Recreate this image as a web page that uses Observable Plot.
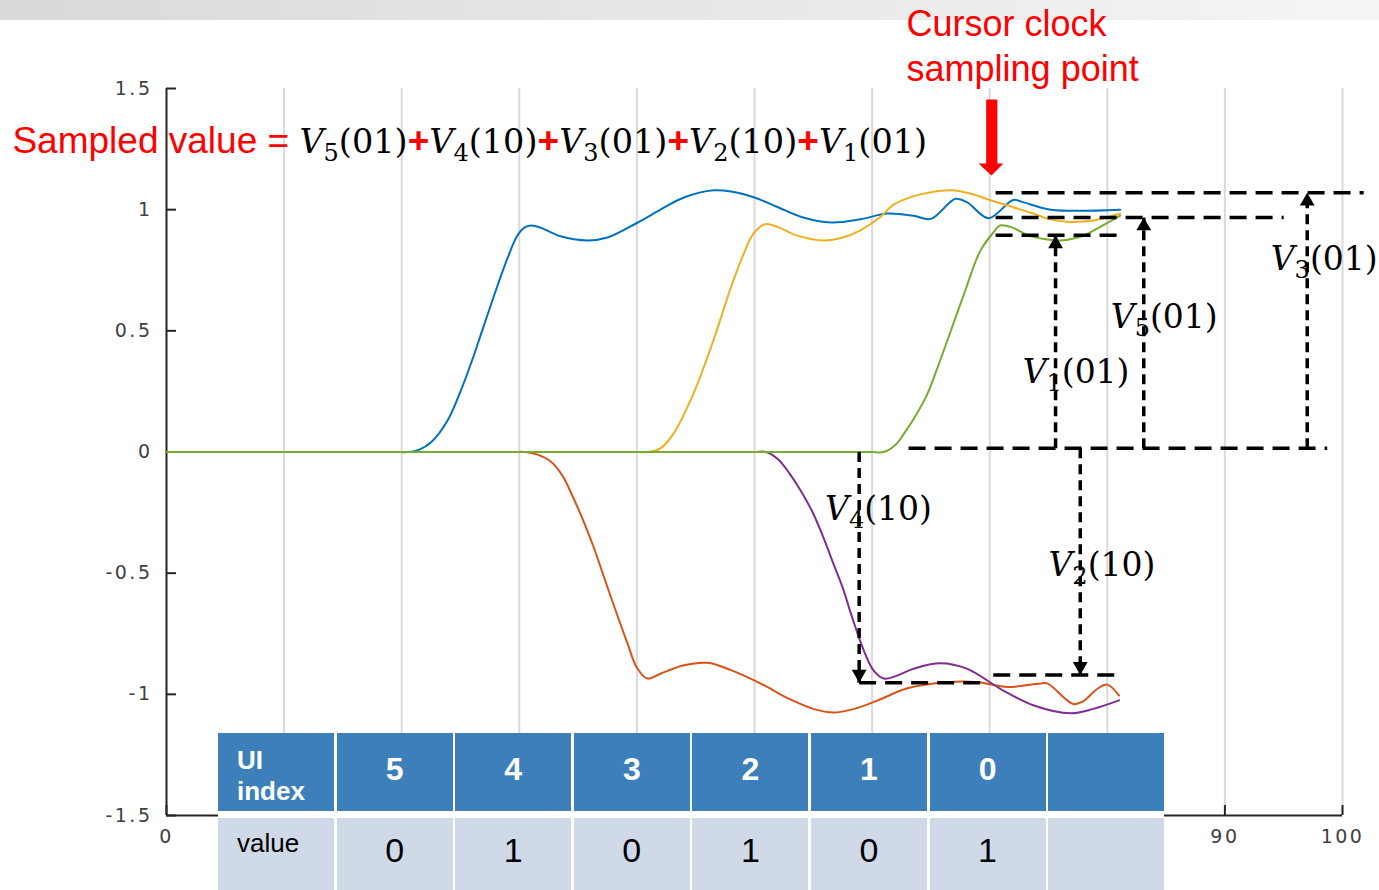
<!DOCTYPE html>
<html>
<head>
<meta charset="utf-8">
<script src="https://cdn.jsdelivr.net/npm/d3@7"></script>
<script src="https://cdn.jsdelivr.net/npm/@observablehq/plot@0.6"></script>
<style>
  html, body { margin: 0; padding: 0; background: #ffffff; }
  body { width: 1379px; height: 890px; overflow: hidden; position: relative; font-family: "Liberation Sans", Arial, sans-serif; }
  #topbar { position: absolute; left: 0; top: 0; width: 1379px; height: 20px; background: linear-gradient(to right, #d9d9d9, #f5f5f5); }
  #chart { position: absolute; left: 0; top: 0; }
  #chart svg { overflow: visible; }
  #chart g[aria-label="y-axis tick label"] text, #chart g[aria-label="x-axis tick label"] text { letter-spacing: 2.5px; }
  #table { position: absolute; left: 218px; top: 733px; display: grid; grid-template-columns: repeat(8, 116px); grid-template-rows: 78px 80px; column-gap: 2.6px; row-gap: 7px; background: #ffffff; }
  .cell { position: relative; }
  .head { background: #3c7fba; color: #ffffff; }
  .body { background: #d0d9e7; color: #000000; }
  .rowlabel { position: absolute; left: 19px; font-size: 26px; }
  .head .rowlabel { top: 12px; line-height: 31px; font-weight: bold; }
  .body .rowlabel { top: 12px; line-height: 26px; }
  .num { position: absolute; left: 0; right: 0; text-align: center; line-height: 1; }
  .head .num { top: 20px; font-size: 32px; font-weight: bold; }
  .body .num { top: 15px; font-size: 34px; }
</style>
</head>
<body>
<div id="topbar"></div>
<div id="chart"></div>
<div id="table"></div>
<script>
// ---------- data ----------
const xTicks = [0, 10, 20, 30, 40, 50, 60, 70, 80, 90, 100];
const xLabelTicks = [0, 90, 100];            // the others sit behind the table
const xTickLabels = ["0", "90", "100"];
const yTicks = [-1.5, -1, -0.5, 0, 0.5, 1, 1.5];
const yTickLabels = ["-1.5", "-1", "-0.5", "0", "0.5", "1", "1.5"];
const gridX = [10, 20, 30, 40, 50, 60, 70, 80, 90, 100];

// pulse responses (x, y)
const blueSeries = [[0,0],[5,0],[10,0],[15,0],[18,0],[19.5,0],[20.5,0],[21.5,0.01],[22.5,0.04],[23.9,0.13],[25,0.25],[26,0.38],[26.7,0.48],[28.1,0.68],[29,0.8],[29.8,0.89],[30.4,0.925],[31,0.935],[32,0.922],[33.5,0.89],[35.8,0.873],[37.5,0.885],[40,0.945],[42,1.0],[44,1.05],[46.5,1.08],[48,1.075],[50,1.05],[52,1.01],[54,0.97],[56.5,0.947],[59,0.96],[61.3,0.984],[63.5,0.975],[65,0.962],[67.1,1.045],[68.1,1.03],[69.9,0.965],[72,1.04],[72.9,1.03],[75.2,1.0],[81.1,1.0]];
const orangeSeries = [[0,0],[10,0],[20,0],[25,0],[28,0],[29.5,0],[30.5,0],[31.5,-0.01],[32.7,-0.04],[33.7,-0.1],[34.6,-0.19],[35.5,-0.29],[36.3,-0.39],[37.8,-0.6],[39.2,-0.79],[40,-0.89],[40.9,-0.935],[42,-0.915],[44,-0.88],[46,-0.87],[48,-0.9],[50.5,-0.955],[53,-1.02],[55,-1.06],[56.7,-1.075],[58.5,-1.06],[60.5,-1.025],[63,-0.975],[66.4,-0.95],[69,-0.95],[71.5,-0.97],[74.3,-0.955],[74.9,-0.955],[77.1,-1.04],[77.9,-1.03],[79.2,-0.976],[80,-0.96],[81,-1.005]];
const yellowSeries = [[0,0],[10,0],[20,0],[30,0],[35,0],[38,0],[40,0],[41,0],[42,0.015],[43.1,0.075],[44.8,0.24],[46.5,0.46],[48,0.68],[49.1,0.82],[49.9,0.9],[50.9,0.94],[52,0.928],[53.5,0.895],[55.9,0.873],[57.5,0.885],[59,0.915],[60.7,0.97],[61.8,1.02],[63.5,1.055],[65,1.072],[66.7,1.08],[68.5,1.065],[70,1.04],[72,1.01],[73.7,0.984],[75,0.962],[76.6,0.95],[78.8,0.955],[81.1,0.984]];
const purpleSeries = [[0,0],[10,0],[20,0],[30,0],[40,0],[45,0],[48,0],[50,0],[51,0],[52,-0.03],[53,-0.09],[54,-0.165],[55,-0.255],[56,-0.37],[56.7,-0.46],[57.5,-0.56],[58.2,-0.667],[59.3,-0.82],[60.1,-0.9],[61,-0.935],[62,-0.925],[63.5,-0.895],[65.8,-0.872],[68.1,-0.895],[70.9,-0.977],[73.7,-1.045],[76.9,-1.078],[78.8,-1.06],[81,-1.025]];
const greenSeries = [[0,0],[10,0],[20,0],[30,0],[40,0],[50,0],[55,0],[58,0],[60,0],[61,0],[62,0.03],[62.7,0.075],[63.7,0.15],[64.7,0.24],[65.5,0.34],[66.4,0.46],[67.8,0.65],[69.2,0.83],[70.3,0.905],[70.9,0.935],[72,0.925],[73.2,0.895],[74.5,0.88],[76,0.873],[77.5,0.885],[78.3,0.9],[80,0.945],[81.1,0.975]];

const seriesList = [blueSeries, orangeSeries, yellowSeries, purpleSeries, greenSeries];
const seriesColors = ["#0072BD", "#D95319", "#EDB120", "#7E2F8E", "#77AC30"];

// annotation geometry (data units)
const hDashes = [
  {x1: 70.5, x2: 101.8, y: 1.07},
  {x1: 70.5, x2: 95.0, y: 0.968},
  {x1: 70.5, x2: 81.4, y: 0.894},
  {x1: 63.1, x2: 98.7, y: 0.015},
  {x1: 58.9, x2: 69.2, y: -0.952},
  {x1: 70.3, x2: 80.7, y: -0.92}
];
const vArrows = [
  {x: 75.6, from: 0.015, to: 0.894},
  {x: 83.1, from: 0.015, to: 0.968},
  {x: 97.0, from: 0.015, to: 1.07},
  {x: 58.9, from: 0.0, to: -0.952},
  {x: 77.7, from: 0.015, to: -0.92}
];
const vLabels = [
  {text: "V3(01)", x: 93.9, y: 0.749},
  {text: "V5(01)", x: 80.3, y: 0.51},
  {text: "V1(01)", x: 72.8, y: 0.283},
  {text: "V4(10)", x: 56.0, y: -0.279},
  {text: "V2(10)", x: 75.0, y: -0.51}
];
const eqLead = "Sampled value = ";
const eqTerms = ["V5(01)", "V4(10)", "V3(01)", "V2(10)", "V1(01)"];
const eqAnchor = [{x: -13.1, y: 1.232}];
const cursorLines = [
  {text: "Cursor clock", x: 62.93, y: 1.715},
  {text: "sampling point", x: 62.93, y: 1.533}
];
const redArrow = [[69.7,1.455],[70.65,1.455],[70.65,1.19],[71.17,1.19],[70.15,1.141],[69.05,1.19],[69.7,1.19]];

// table
const headLabel = ["UI", "index"];
const uiIndex = ["5", "4", "3", "2", "1", "0", ""];
const rowLabel = "value";
const bitValues = ["0", "1", "0", "1", "0", "1", ""];

// ---------- chart ----------
const sans = '"Liberation Sans", Arial, sans-serif';
const serif = '"DejaVu Serif", serif';
const axisColor = "#262626";
const pxX = 100 / 1176, pxY = 3 / 727;

const marks = [
  Plot.ruleX(gridX, {y1: -1.5, y2: 1.5, stroke: "#dadada", strokeWidth: 2}),
  Plot.ruleX([0], {y1: -1.5, y2: 1.5, stroke: axisColor, strokeWidth: 2}),
  Plot.ruleY([-1.5], {x1: 0, x2: 100, stroke: axisColor, strokeWidth: 2}),
  Plot.ruleY(yTicks, {x1: 0, x2: 10 * pxX, stroke: axisColor, strokeWidth: 2}),
  Plot.ruleX(xTicks, {y1: -1.5, y2: -1.5 + 10 * pxY, stroke: axisColor, strokeWidth: 2}),
  Plot.axisY({ticks: yTicks, tickSize: 0, tickPadding: 14, tickFormat: d => yTickLabels[yTicks.indexOf(d)], fill: "#404040"}),
  Plot.axisX({ticks: xLabelTicks, tickSize: 0, tickPadding: 14, tickFormat: d => xTickLabels[xLabelTicks.indexOf(d)], fill: "#404040"}),
  ...seriesList.map((s, i) => Plot.line(s, {x: d => d[0], y: d => d[1], stroke: seriesColors[i], strokeWidth: 2, curve: "catmull-rom"})),
  Plot.text(vLabels, {x: "x", y: "y", text: "text", textAnchor: "start", lineAnchor: "bottom", fontFamily: serif, fontSize: 33, fill: "black"}),
  Plot.link(hDashes, {x1: "x1", x2: "x2", y1: "y", y2: "y", stroke: "black", strokeWidth: 3.5, strokeDasharray: "17,9"}),
  Plot.link(vArrows, {x1: "x", x2: "x", y1: "from", y2: "to", stroke: "black", strokeWidth: 3.5, strokeDasharray: "10,6"}),
  Plot.dot(vArrows.filter(d => d.to > d.from), {x: "x", y: "to", symbol: "triangle", r: 5.5, fill: "black", stroke: "none", dy: 8.6}),
  Plot.dot(vArrows.filter(d => d.to < d.from), {x: "x", y: "to", symbol: "triangle", r: 5.5, fill: "black", stroke: "none", rotate: 180, dy: -8.6}),
  Plot.line(redArrow, {x: d => d[0], y: d => d[1], fill: "#ff0000", stroke: "none"}),
  Plot.text(cursorLines, {x: "x", y: "y", text: "text", textAnchor: "start", lineAnchor: "bottom", fontFamily: sans, fontSize: 36, fill: "#ff0000"}),
  Plot.text(eqAnchor, {x: "x", y: "y", text: () => eqLead + eqTerms.join("+"), textAnchor: "start", lineAnchor: "bottom", fontFamily: sans, fontSize: 37, fill: "black"})
];

const plot = Plot.plot({
  width: 1379,
  height: 890,
  marginLeft: 166,
  marginRight: 37,
  marginTop: 88,
  marginBottom: 75,
  x: {domain: [0, 100]},
  y: {domain: [-1.5, 1.5]},
  style: {background: "transparent", fontFamily: '"DejaVu Sans", sans-serif', fontSize: "19px", color: "#404040", overflow: "visible"},
  marks
});
document.getElementById("chart").appendChild(plot);

// rich text for math labels (italic V, subscript index)
function addTerm(t, term, size) {
  const m = /^V(\d)(\(\d+\))$/.exec(term);
  t.append("tspan").attr("font-family", serif).attr("font-style", "italic").attr("font-size", size).attr("fill", "black").text("V");
  t.append("tspan").attr("font-family", serif).attr("font-size", Math.round(size * 0.73)).attr("dy", 8).attr("fill", "black").text(m[1]);
  t.append("tspan").attr("font-family", serif).attr("font-size", size).attr("dy", -8).attr("fill", "black").text(m[2]);
}
const termRe = /^V\d\(\d+\)$/;
const svg = d3.select(plot);
svg.selectAll("text").each(function() {
  const t = d3.select(this);
  const s = t.text();
  if (termRe.test(s)) {
    t.text("");
    addTerm(t, s, 33);
  } else if (s.startsWith(eqLead)) {
    t.text("");
    t.append("tspan").attr("fill", "#ff0000").attr("font-family", sans).attr("font-size", 37).text(eqLead);
    eqTerms.forEach((term, i) => {
      if (i) t.append("tspan").attr("fill", "#ff0000").attr("font-family", sans).attr("font-weight", "bold").attr("font-size", 37).text("+");
      addTerm(t, term, 33.5);
    });
  }
});

// ---------- table ----------
const table = document.getElementById("table");
function cell(cls, html) {
  const c = document.createElement("div");
  c.className = "cell " + cls;
  c.innerHTML = html;
  table.appendChild(c);
}
cell("head", `<div class="rowlabel">${headLabel.join("<br>")}</div>`);
uiIndex.forEach(v => cell("head", `<div class="num">${v}</div>`));
cell("body", `<div class="rowlabel">${rowLabel}</div>`);
bitValues.forEach(v => cell("body", `<div class="num">${v}</div>`));
</script>
</body>
</html>
